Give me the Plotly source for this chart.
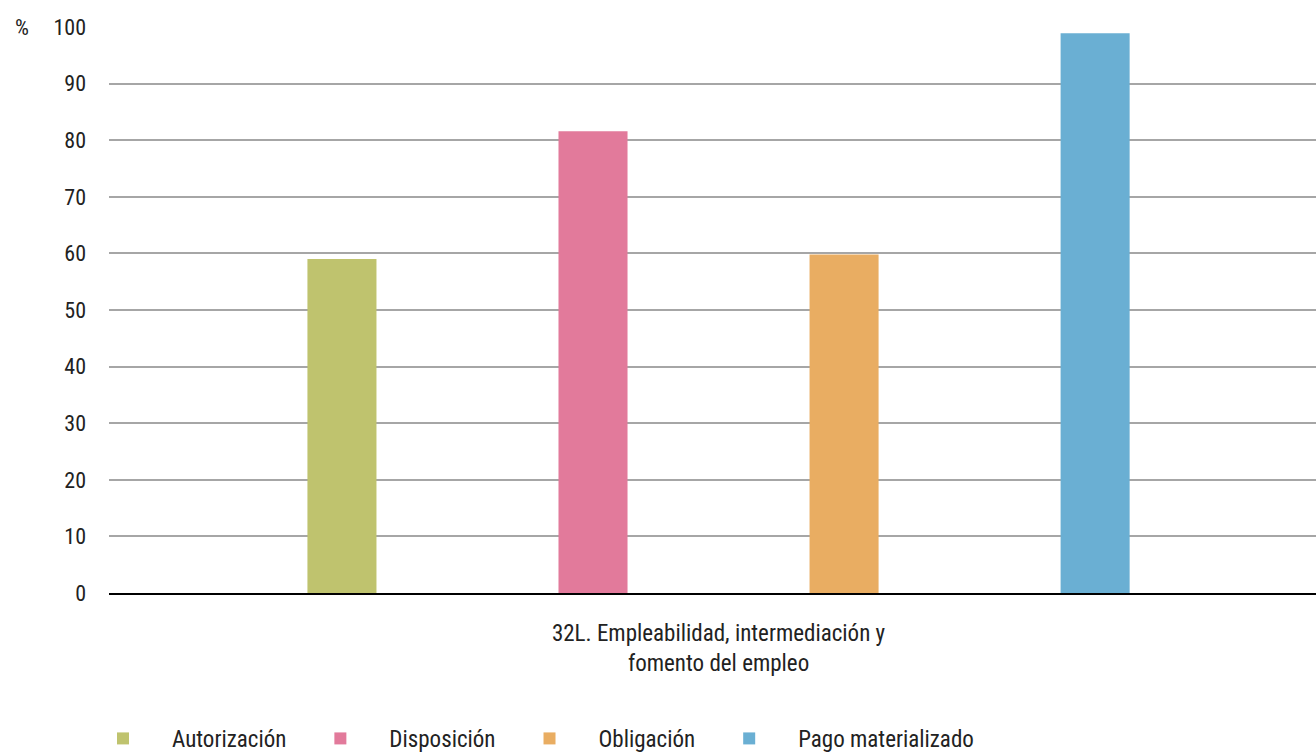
import plotly.graph_objects as go

category = ["32L. Empleabilidad, intermediación y<br>fomento del empleo"]
series = ["Autorización", "Disposición", "Obligación", "Pago materializado"]
values = [59.0, 81.6, 59.8, 98.9]
colors = ["#BFC36E", "#E27A9B", "#E9AD62", "#6AAFD3"]

FONT = "Roboto Condensed, Liberation Sans Narrow, DejaVu Sans Condensed, sans-serif"

fig = go.Figure()
for name, val, col in zip(series, values, colors):
    fig.add_trace(go.Bar(x=category, y=[val], name=name, marker_color=col,
                         marker_line_width=0))

fig.update_layout(
    width=1316, height=756,
    barmode="group",
    bargap=0.168,
    bargroupgap=0.725,
    plot_bgcolor="white",
    paper_bgcolor="white",
    font=dict(family=FONT, size=22, color="#222"),
    margin=dict(l=109, r=0, t=27, b=163, autoexpand=False),
    showlegend=True,
    legend=dict(orientation="h", x=-0.029, xanchor="left",
                y=-0.257, yanchor="middle",
                font=dict(size=23, color="#222"), itemwidth=88,
                traceorder="normal"),
    annotations=[dict(text="%", xref="paper", yref="paper", x=-0.065, y=1.0,
                      xanchor="right", yanchor="middle", showarrow=False,
                      font=dict(size=22, color="#222"))],
)
fig.update_xaxes(showgrid=False, range=[-0.505, 0.495],
                 tickfont=dict(size=23, color="#222"), ticklabelstandoff=18,
                 showline=True, linecolor="black", linewidth=2, ticks="")
fig.update_yaxes(range=[0, 100], dtick=10, showgrid=True, gridcolor="#A6A6A6",
                 gridwidth=2, zeroline=False, ticks="", ticklabelstandoff=22,
                 tickfont=dict(size=22, color="#222"))

fig.write_html("out.html", config={"displayModeBar": False},
               post_script="document.body.style.margin='0';")
